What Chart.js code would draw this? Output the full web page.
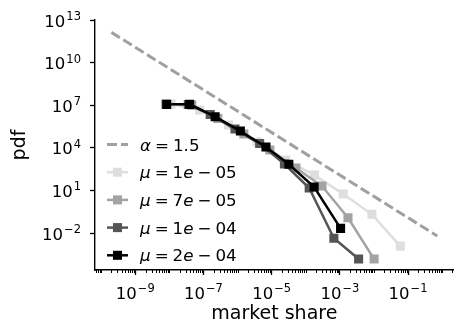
<!DOCTYPE html>
<html><head><meta charset="utf-8">
<script src="https://cdn.jsdelivr.net/npm/chart.js@4"></script>
<style>
html,body{margin:0;padding:0;overflow:hidden;background:#fff;width:455px;height:327px}
#wrap{position:absolute;left:0;top:0;width:460px;height:327px}
</style>
</head><body><div id="wrap"><canvas id="c"></canvas></div>
<script>
// ---- data ----
const refLabel = 'α = 1.5';
const refX = [2.0e-10, 0.72];
const refY = [1.35e12, 6.2e-3];

const seriesLabels = ['μ = 1e − 05', 'μ = 7e − 05', 'μ = 1e − 04', 'μ = 2e − 04'];
const seriesColors = ['#dedede', '#a3a3a3', '#555555', '#000000'];

const mu1e05X = [1.12e-8, 7.76e-8, 5.40e-7, 3.74e-6, 2.60e-5, 1.80e-4, 1.25e-3, 8.69e-3, 5.92e-2];
const mu1e05Y = [1.20e7, 4.57e6, 4.07e5, 2.57e4, 1.38e3, 120, 5.62, 0.209, 1.20e-3];

const mu7e05X = [7.82e-9, 4.54e-8, 2.64e-7, 1.53e-6, 8.87e-6, 5.15e-5, 2.99e-4, 1.73e-3, 1.01e-2];
const mu7e05Y = [1.20e7, 1.02e7, 1.15e6, 9.33e4, 7.08e3, 380, 20.4, 0.120, 1.48e-4];

const mu1e04X = [3.60e-8, 1.58e-7, 8.41e-7, 4.45e-6, 2.37e-5, 1.26e-4, 6.67e-4, 3.55e-3];
const mu1e04Y = [1.12e7, 2.24e6, 2.09e5, 2.00e4, 724, 14.8, 4.27e-3, 1.48e-4];

const mu2e04X = [8.36e-9, 3.93e-8, 2.20e-7, 1.21e-6, 6.81e-6, 3.19e-5, 1.76e-4, 1.05e-3];
const mu2e04Y = [1.15e7, 1.15e7, 1.55e6, 1.51e5, 1.15e4, 692, 17.4, 0.0214];

const xTicks = [1e-9, 1e-7, 1e-5, 1e-3, 1e-1];
const yTicks = [1e-2, 1e1, 1e4, 1e7, 1e10, 1e13];
const xTitle = 'market share';
const yTitle = 'pdf';

// ---- build ----
const pts = (xs, ys) => xs.map((x, i) => ({x: x, y: ys[i]}));
const seriesX = [mu1e05X, mu7e05X, mu1e04X, mu2e04X];
const seriesY = [mu1e05Y, mu7e05Y, mu1e04Y, mu2e04Y];

const datasets = [{
  label: refLabel, data: pts(refX, refY), showLine: true, borderColor: '#a0a0a0',
  borderWidth: 3, borderDash: [10, 4], pointRadius: 0, order: 10, fill: false
}];
seriesLabels.forEach((lab, i) => {
  datasets.push({
    label: lab, data: pts(seriesX[i], seriesY[i]), showLine: true,
    borderColor: seriesColors[i], backgroundColor: seriesColors[i],
    pointBackgroundColor: seriesColors[i], pointBorderColor: seriesColors[i],
    borderWidth: 2.5, pointStyle: 'rect', pointRadius: 6.4, pointBorderWidth: 0,
    order: 4 - i, fill: false, tension: 0
  });
});

const FAM = '"DejaVu Sans"';
function drawPow(ctx, v, anchorX, baseY, align) {
  const e = Math.round(Math.log10(v));
  const es = e < 0 ? '\u2212' + (-e) : String(e);
  ctx.font = '16.5px ' + FAM; const w1 = ctx.measureText('10').width;
  ctx.font = '11.5px ' + FAM; const w2 = ctx.measureText(es).width;
  const total = w1 + 1 + w2;
  const x0 = align === 'center' ? anchorX - total / 2 : anchorX - total;
  ctx.textAlign = 'left'; ctx.textBaseline = 'alphabetic';
  ctx.font = '16.5px ' + FAM; ctx.fillText('10', x0, baseY);
  ctx.font = '11.5px ' + FAM; ctx.fillText(es, x0 + w1 + 1, baseY - 6.5);
}
function drawMath(ctx, str, x, y, size) {
  ctx.textAlign = 'left'; ctx.textBaseline = 'alphabetic';
  for (const ch of str) {
    if (ch === ' ') { x += size * 0.24; continue; }
    ctx.font = ('αμe'.includes(ch) ? 'italic ' : '') + size + 'px ' + FAM;
    ctx.fillText(ch, x, y);
    x += ctx.measureText(ch).width;
  }
}

const overlay = {
  id: 'overlay',
  afterDraw(chart) {
    const ctx = chart.ctx, xs = chart.scales.x, ys = chart.scales.y, ca = chart.chartArea;
    ctx.save();
    ctx.fillStyle = '#000';
    xTicks.forEach(v => drawPow(ctx, v, xs.getPixelForValue(v), ca.bottom + 28.5, 'center'));
    yTicks.forEach(v => drawPow(ctx, v, ca.left - 14, ys.getPixelForValue(v) + 6.5, 'right'));
    ctx.strokeStyle = '#000'; ctx.lineWidth = 1;
    for (let n = -11; n <= 0; n++) {
      for (let k = 1; k <= 9; k++) {
        const v = k * Math.pow(10, n);
        if (k === 1 && Math.abs(n) % 2 === 1) continue;
        if (v < xs.min || v > xs.max) continue;
        const px = Math.round(xs.getPixelForValue(v)) + 0.5;
        ctx.beginPath(); ctx.moveTo(px, ca.bottom); ctx.lineTo(px, ca.bottom + 3); ctx.stroke();
      }
    }
    const x1 = 107, x2 = 128, tx = 140, row0 = 144.5, dy = 27.7;
    chart.data.datasets.forEach((ds, i) => {
      const cy = row0 + i * dy;
      ctx.save();
      ctx.strokeStyle = ds.borderColor; ctx.lineWidth = ds.borderWidth;
      ctx.setLineDash(ds.borderDash || []);
      ctx.beginPath(); ctx.moveTo(x1, cy); ctx.lineTo(x2, cy); ctx.stroke();
      ctx.restore();
      if (ds.pointRadius > 0) {
        const s = ds.pointRadius * Math.SQRT1_2;
        ctx.fillStyle = ds.pointBackgroundColor;
        ctx.fillRect((x1 + x2) / 2 - s, cy - s, 2 * s, 2 * s);
      }
      ctx.fillStyle = '#000';
      drawMath(ctx, ds.label, tx, cy + 6, 16.7);
    });
    ctx.restore();
  }
};

Chart.defaults.font.family = 'DejaVu Sans';
Chart.defaults.color = '#000';
new Chart(document.getElementById('c'), {
  type: 'scatter',
  data: {datasets: datasets},
  plugins: [overlay],
  options: {
    responsive: true, maintainAspectRatio: false, animation: false, devicePixelRatio: 1,
    layout: {padding: {top: 20, right: 0, left: 0, bottom: 0}},
    plugins: {legend: {display: false}, tooltip: {enabled: false}},
    scales: {
      x: {
        type: 'logarithmic', position: 'bottom',
        min: Math.pow(10, -10.18), max: Math.pow(10, 0.335),
        afterBuildTicks: s => { s.ticks = xTicks.map(v => ({value: v})); },
        afterFit: s => { s.height = 57; },
        ticks: {display: false},
        grid: {display: true, drawOnChartArea: false, drawTicks: true, tickLength: 5, tickWidth: 1.3, tickColor: '#000'},
        border: {display: true, color: '#000', width: 1.4},
        title: {display: true, text: xTitle, font: {size: 19}, padding: {top: 0, bottom: 2}}
      },
      y: {
        type: 'logarithmic', position: 'left',
        min: Math.pow(10, -4.6), max: 1e13,
        afterBuildTicks: s => { s.ticks = yTicks.map(v => ({value: v})); },
        afterFit: s => { s.width = 95; },
        ticks: {display: false},
        grid: {display: true, drawOnChartArea: false, drawTicks: true, tickLength: 5, tickWidth: 1.3, tickColor: '#000'},
        border: {display: true, color: '#000', width: 1.4},
        title: {display: true, text: yTitle, font: {size: 19}, padding: {top: 9, bottom: 0}}
      }
    }
  }
});
</script>
</body></html>
